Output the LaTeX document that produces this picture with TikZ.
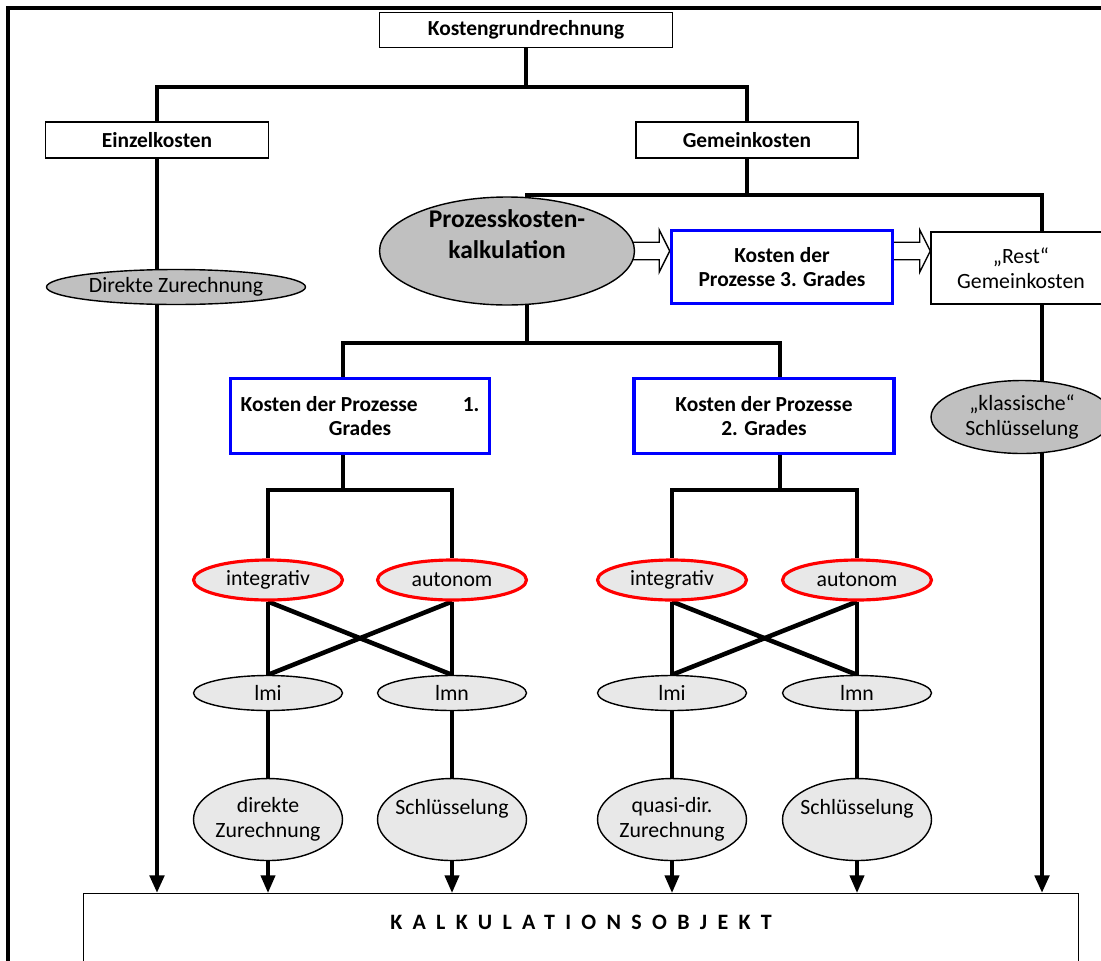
\documentclass[tikz,border=0pt]{standalone}
\usepackage{fontspec}
\setmainfont{Carlito}
\usetikzlibrary{shapes.geometric,arrows.meta,calc,backgrounds}
\definecolor{darkfill}{RGB}{192,192,192}
\definecolor{lightfill}{RGB}{232,232,232}

\begin{document}
\begin{tikzpicture}[x=0.02cm, y=-0.02cm, font=\fontsize{12.4}{14}\selectfont,
  box/.style={draw, line width=0.8pt, fill=white, align=center, inner sep=0pt,
    font=\fontsize{12.2}{14}\selectfont\bfseries},
  bluebox/.style={box, draw=blue, line width=2pt},
  oval/.style={ellipse, draw, line width=0.8pt, align=center, inner sep=0pt},
  darkoval/.style={oval, fill=darkfill},
  redoval/.style={oval, draw=red, line width=1.8pt, fill=lightfill,
    minimum width=2.98cm, minimum height=0.8cm},
  lightoval/.style={oval, fill=lightfill, inner sep=-3pt, minimum width=2.98cm},
  conn/.style={line width=2.6pt},
  thinconn/.style={line width=2pt},
  arr/.style={-{Triangle[width=8pt,length=10pt]}},
  hollow/.style={draw, line width=0.8pt, fill=white}]

  \useasboundingbox (0,0) rectangle (1101,960);
  \clip (0,0) rectangle (1101,960);

  % hollow block arrow from #1 to #2
  \def\blockarrow#1#2{
    \draw[hollow] let \p1=#1, \p2=#2 in
      (\x1-10pt,\y2+5pt) -- (\x2-6pt,\y2+5pt) -- (\x2-6pt,\y2+12pt) -- (\x2,\y2)
      -- (\x2-6pt,\y2-12pt) -- (\x2-6pt,\y2-5pt) -- (\x1-10pt,\y2-5pt);
  }

  \node[box, minimum width=5.86cm, minimum height=0.7cm] (kgr) at (526,30) {Kostengrundrechnung};
  \node[box, minimum width=4.46cm, minimum height=0.72cm] (einzel) at (157,140) {Einzelkosten};
  \node[box, minimum width=4.44cm, minimum height=0.72cm] (gemein) at (747,140) {Gemeinkosten};

  \node[darkoval, minimum width=5.18cm, minimum height=0.7cm] (direkt) at (176,287) {Direkte Zurechnung};
  \node[darkoval, minimum width=5.1cm, minimum height=2.16cm, inner sep=-6pt, text depth=19pt,
    font=\fontsize{14.5}{17.5}\selectfont\bfseries] (pk) at (507,251) {Prozesskosten-\\kalkulation};
  \node[bluebox, minimum width=4.42cm, minimum height=1.46cm] (k3) at (782,267) {Kosten der\\Prozesse 3. Grades};
  \node[box, font=\fontsize{12.4}{14}\selectfont, minimum width=3.6cm, minimum height=1.44cm]
    (rest) at (1021,268) {„Rest“\\Gemeinkosten};
  \node[darkoval, minimum width=3.64cm, minimum height=1.46cm] (klass) at (1022,417) {„klassische“\\Schlüsselung};

  \node[bluebox, minimum width=5.18cm, minimum height=1.5cm] (k1) at (360,416) {Kosten der Prozesse\hspace{2.1em}1.\\Grades};
  \node[bluebox, minimum width=5.2cm, minimum height=1.5cm] (k2) at (764,416) {Kosten der Prozesse\\2. Grades};

  \foreach \g/\xi/\xa/\txt in {1/268/452/{direkte\\Zurechnung}, 2/672/857/{quasi-dir.\\Zurechnung}} {
    \node[redoval] (int\g) at (\xi,580) {integrativ};
    \node[redoval] (aut\g) at (\xa,580) {autonom};
    \node[lightoval, minimum height=0.7cm] (lmi\g) at (\xi,693) {lmi};
    \node[lightoval, minimum height=0.7cm] (lmn\g) at (\xa,693) {lmn};
    \node[lightoval, minimum height=1.64cm, yshift=-2pt] (zu\g) at (\xi,816) {\txt};
    \node[lightoval, minimum height=1.64cm, yshift=-2pt] (sch\g) at (\xa,816) {Schlüsselung\\~};
  }

  \node[box, anchor=north, minimum width=19.9cm, inner ysep=10pt, text height=10.5pt, text depth=60pt,
    font=\fontsize{12.5}{14}\selectfont\bfseries] (kalk) at (581,893)
    {\addfontfeature{LetterSpace=47}KALKULATIONSOBJEKT};

  \coordinate (j1) at (526,87);
  \coordinate (j2) at (747,195);
  \coordinate (j3) at (527,343);
  \coordinate (j4) at (343,490);
  \coordinate (j5) at (780,490);
  \coordinate (rcol) at (1042,195);

  \begin{scope}[on background layer]
    \draw[line width=1.8pt] (8,8) rectangle (1120,1000);

    \draw[conn] (kgr) -- (j1);
    \draw[conn] (einzel) |- (j1) -| (gemein);
    \draw[conn] (gemein) -- (j2);
    \draw[conn, arr] (einzel) -- (kalk.north -| einzel);
    \draw[conn, arr] (j3) |- (j2) -| (kalk.north -| rcol);
    \draw[conn] (j4) |- (j3) -| (j5);

    \foreach \g/\j in {1/j4, 2/j5} {
      \draw[conn] (int\g) |- (\j) -| (aut\g);
      \draw[conn] (int\g) -- (lmi\g);
      \draw[conn] (aut\g) -- (lmn\g);
      \draw[conn] (int\g.south) -- (lmn\g.north);
      \draw[conn] (aut\g.south) -- (lmi\g.north);
      \draw[thinconn] (lmi\g) -- (zu\g);
      \draw[thinconn] (lmn\g) -- (sch\g);
      \draw[thinconn, arr] (zu\g) -- (kalk.north -| zu\g);
      \draw[thinconn, arr] (sch\g) -- (kalk.north -| sch\g);
    }

    \blockarrow{(pk.east)}{(k3.west |- pk)}
    \blockarrow{(k3.east |- pk)}{(rest.west |- pk)}
  \end{scope}
\end{tikzpicture}
\end{document}
